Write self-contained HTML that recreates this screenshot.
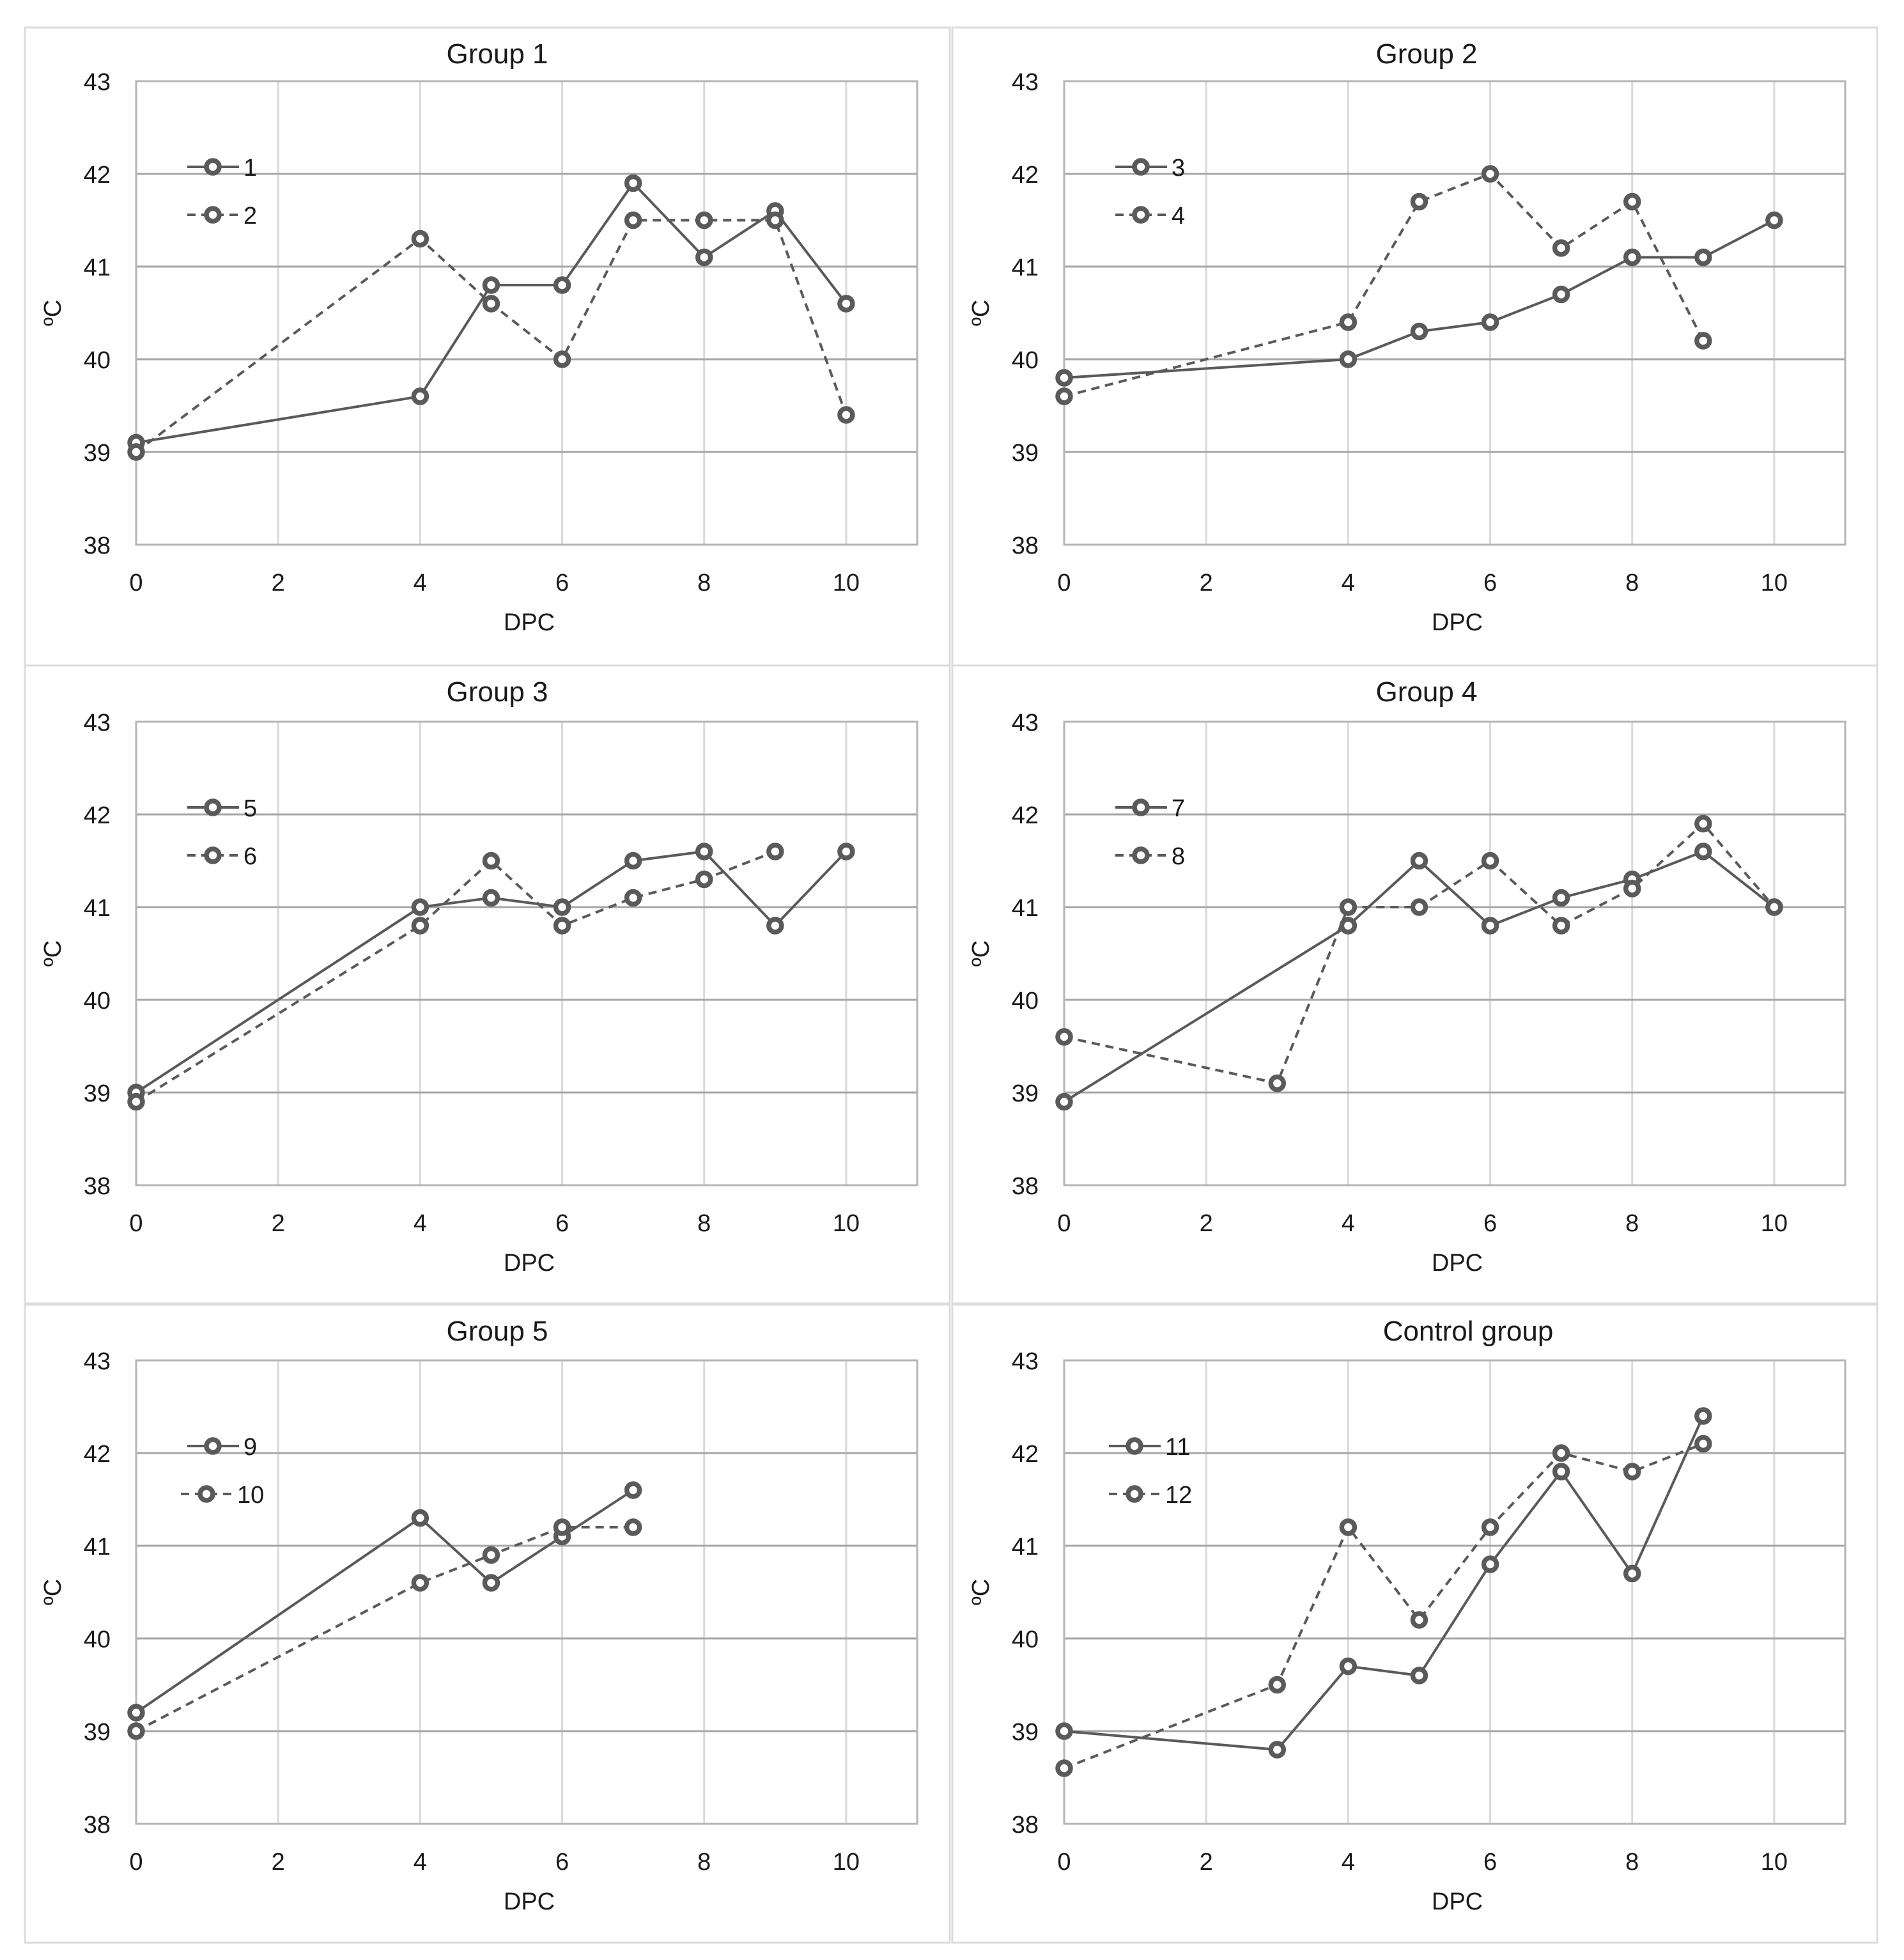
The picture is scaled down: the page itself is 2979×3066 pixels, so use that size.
<!DOCTYPE html>
<html><head><meta charset="utf-8"><style>
html,body{margin:0;padding:0;background:#fff}
svg{display:block;font-family:"Liberation Sans",sans-serif}
</style></head><body>
<svg id="chart" width="2979" height="3066" viewBox="0 0 2979 3066" xmlns="http://www.w3.org/2000/svg"></svg>
<script>
const titles = ["Group 1","Group 2","Group 3","Group 4","Group 5","Control group"];
const seriesNames = [["1","2"],["3","4"],["5","6"],["7","8"],["9","10"],["11","12"]];
const solidX = [[0,4,5,6,7,8,9,10],[0,4,5,6,7,8,9,10],[0,4,5,6,7,8,9,10],[0,4,5,6,7,8,9,10],[0,4,5,6,7],[0,3,4,5,6,7,8,9]];
const solidY = [[39.1,39.6,40.8,40.8,41.9,41.1,41.6,40.6],[39.8,40.0,40.3,40.4,40.7,41.1,41.1,41.5],[39.0,41.0,41.1,41.0,41.5,41.6,40.8,41.6],[38.9,40.8,41.5,40.8,41.1,41.3,41.6,41.0],[39.2,41.3,40.6,41.1,41.6],[39.0,38.8,39.7,39.6,40.8,41.8,40.7,42.4]];
const dashX = [[0,4,5,6,7,8,9,10],[0,4,5,6,7,8,9],[0,4,5,6,7,8,9],[0,3,4,5,6,7,8,9,10],[0,4,5,6,7],[0,3,4,5,6,7,8,9]];
const dashY = [[39.0,41.3,40.6,40.0,41.5,41.5,41.5,39.4],[39.6,40.4,41.7,42.0,41.2,41.7,40.2],[38.9,40.8,41.5,40.8,41.1,41.3,41.6],[39.6,39.1,41.0,41.0,41.5,40.8,41.2,41.9,41.0],[39.0,40.6,40.9,41.2,41.2],[38.6,39.5,41.2,40.2,41.2,42.0,41.8,42.1]];
const xTicks = [0,2,4,6,8,10];
const yTicks = [38,39,40,41,42,43];

const NS="http://www.w3.org/2000/svg";
const svg=document.getElementById('chart');
function mk(tag,attrs,parent){const e=document.createElementNS(NS,tag);for(const k in attrs)e.setAttribute(k,attrs[k]);(parent||svg).appendChild(e);return e;}
const colL=[39,1490], colW=1447;
const rowT=[43,1041,2041], rowH=998;
const plotL=[213,1665], plotW=1222;
const plotT=[127,1129,2128], plotH=725;
const XMAX=11, YMIN=38, YMAX=43;
const C="#5a5a5a";
const titleDx=[-46,-44,-46,-44,-46,21];

for(let p=0;p<6;p++){
  const c=p%2, r=Math.floor(p/2);
  const g=mk('g',{});
  
  
  const px=plotL[c], py=plotT[r];
  const sx=v=>px+v/XMAX*plotW;
  const sy=v=>py+(YMAX-v)/(YMAX-YMIN)*plotH;
  const fr=mk('rect',{x:colL[c],y:rowT[r],width:colW,height:rowH,fill:'none',stroke:'#dcdcdc','stroke-width':3},g);
  
  
  const t=mk('text',{x:px+plotW/2+titleDx[p],y:rowT[r]+56,'text-anchor':'middle','font-size':44,fill:'#1a1a1a'},g);
  t.textContent=titles[p];
  
  
  for(const v of xTicks){ if(v===0)continue;
    const l=mk('line',{x1:sx(v),x2:sx(v),y1:py,y2:py+plotH,stroke:'#d9d9d9','stroke-width':3},g);
    
    
  }
  for(const v of yTicks){ if(v===38||v===43)continue;
    const l=mk('line',{x1:px,x2:px+plotW,y1:sy(v),y2:sy(v),stroke:'#a6a6a6','stroke-width':3},g);
    
    
  }
  const b=mk('rect',{x:px,y:py,width:plotW,height:plotH,fill:'none',stroke:'#b5b5b5','stroke-width':3},g);
  
  
  for(const v of yTicks){
    const tt=mk('text',{x:px-40,y:sy(v)+14,'text-anchor':'end','font-size':38,fill:'#1a1a1a'},g);
    tt.textContent=v;
    
    
  }
  for(const v of xTicks){
    const tt=mk('text',{x:sx(v),y:py+plotH+72,'text-anchor':'middle','font-size':38,fill:'#1a1a1a'},g);
    tt.textContent=v;
    
    
  }
  const xt=mk('text',{x:px+plotW/2+4,y:py+plotH+134,'text-anchor':'middle','font-size':38,fill:'#1a1a1a'},g);
  xt.textContent='DPC';
  
  
  const yx=px-118, yy=py+plotH/2;
  const yt=mk('text',{x:yx,y:yy,'text-anchor':'middle','font-size':38,fill:'#1a1a1a',transform:`rotate(-90 ${yx} ${yy})`},g);
  yt.textContent='ºC';
  
  

  const sets=[[solidX[p],solidY[p],null],[dashX[p],dashY[p],'13,9']];
  sets.forEach((s,si)=>{
    const pts=s[0].map((x,i)=>sx(x)+','+sy(s[1][i])).join(' ');
    const a={points:pts,fill:'none',stroke:C,'stroke-width':4};
    if(s[2])a['stroke-dasharray']=s[2];
    const pl=mk('polyline',a,g);
    
    
    s[0].forEach((x,i)=>{
      const m=mk('circle',{cx:sx(x),cy:sy(s[1][i]),r:10,fill:'#fff',stroke:C,'stroke-width':7.5},g);
      
      
    });
    const off=(seriesNames[p][si].length>1)?-10:0;
    const ly=py+134+si*75, lx=px+80+off;
    const la={x1:lx,x2:lx+81,y1:ly,y2:ly,stroke:C,'stroke-width':4};
    if(s[2])la['stroke-dasharray']='13,9';
    const ll=mk('line',la,g);
    
    
    const lm=mk('circle',{cx:lx+40,cy:ly,r:10,fill:'#fff',stroke:C,'stroke-width':7.5},g);
    
    
    const lt=mk('text',{x:lx+88,y:ly+14,'font-size':38,fill:'#1a1a1a'},g);
    lt.textContent=seriesNames[p][si];
    
    
  });
}
</script>
</body></html>
